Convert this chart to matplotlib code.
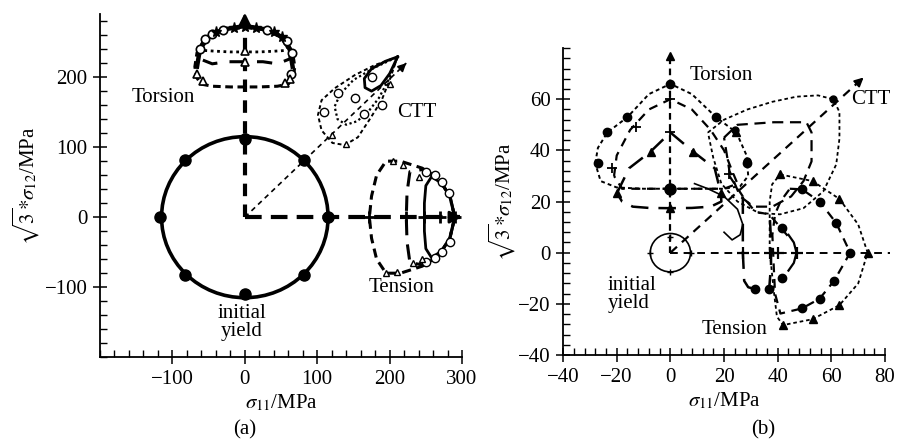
import numpy as np
import matplotlib
matplotlib.use("Agg")
import matplotlib.pyplot as plt
from matplotlib.patches import Circle
from matplotlib.ticker import MultipleLocator

plt.rcParams['font.family'] = ['Liberation Serif', 'DejaVu Serif']
plt.rcParams['mathtext.fontset'] = 'stix'
plt.rcParams['font.size'] = 15

# ---------------- panel (a) data ----------------
a_yield_r = 115
a_yield_px = [115, 82, 0, -82, -117, -82, 0, 82]
a_yield_py = [0, 82, 112, 82, 0, -82, -110, -82]

a_arm_torsion = [0, 288]
a_arm_tension = [0, 297]
a_arm_ctt_x = [0, 223]
a_arm_ctt_y = [0, 220]

a_tor_dash_x = [0, 25, 45, 58, 66, 69, 67, 60, 45, 20, 0, -20, -45, -60, -67, -69, -66, -58, -45, -25, 0]
a_tor_dash_y = [271, 268, 261, 250, 235, 215, 200, 190, 187, 186, 186, 186, 187, 190, 200, 215, 235, 250, 261, 268, 271]
a_tor_ldash_x = [0, 25, 45, 58, 64, 62, 45, 25, 0, -25, -45, -62, -64, -58, -45, -25, 0]
a_tor_ldash_y = [272, 269, 262, 250, 235, 226, 219, 222, 222, 222, 219, 226, 235, 250, 262, 269, 272]
a_tor_dot_x = [0, 25, 45, 56, 60, 55, 40, 20, 0, -20, -40, -55, -60, -56, -45, -25, 0]
a_tor_dot_y = [273, 270, 263, 252, 243, 238, 237, 236, 236, 236, 237, 238, 243, 252, 263, 270, 273]
a_tor_solid_x = [-66, -62, -50, -30, 0, 30, 50, 62, 66]
a_tor_solid_y = [215, 240, 258, 268, 273, 268, 258, 240, 215]
a_tor_circ_x = [-62, -55, -45, 58, 65, 64, -30, 30]
a_tor_circ_y = [240, 254, 262, 252, 235, 205, 268, 268]
a_tor_tri_x = [-66, -58, 0, 0, 62, 55]
a_tor_tri_y = [205, 195, 238, 222, 198, 192]
a_tor_star_x = [-40, -15, 0, 15, 40, 52]
a_tor_star_y = [264, 270, 272, 270, 264, 258]

a_ctt_dash_x = [211, 200, 189, 172, 156, 138, 121, 106, 101, 106, 124, 152, 179, 211]
a_ctt_dash_y = [229, 196, 167, 139, 114, 103, 106, 124, 146, 167, 184, 203, 217, 229]
a_ctt_dot_x = [211, 198, 185, 170, 155, 140, 128, 124, 132, 150, 180, 211]
a_ctt_dot_y = [229, 195, 170, 150, 137, 132, 140, 158, 176, 196, 214, 229]
a_ctt_solid_x = [211, 200, 188, 175, 166, 165, 175, 195, 211]
a_ctt_solid_y = [229, 205, 188, 180, 185, 198, 212, 223, 229]
a_ctt_circ_x = [128, 152, 165, 190, 110, 175]
a_ctt_circ_y = [178, 170, 148, 160, 150, 200]
a_ctt_tri_x = [140, 200, 120]
a_ctt_tri_y = [105, 190, 118]

a_ten_outer_x = [290, 283, 268, 245, 215, 195, 182, 175, 172, 175, 182, 195, 215, 245, 268, 283, 290]
a_ten_outer_y = [0, 30, 55, 70, 80, 80, 60, 30, 0, -30, -60, -80, -80, -70, -55, -30, 0]
a_ten_mid_x = [290, 283, 268, 245, 228, 224, 223, 224, 228, 245, 268, 283, 290]
a_ten_mid_y = [0, 30, 55, 68, 65, 35, 0, -35, -65, -68, -55, -30, 0]
a_ten_solid_x = [290, 284, 272, 258, 250, 248, 248, 248, 250, 258, 272, 284, 290]
a_ten_solid_y = [0, 28, 48, 58, 45, 20, 0, -20, -45, -58, -48, -28, 0]
a_ten_circ_x = [250, 262, 272, 282, 262, 250, 272, 284]
a_ten_circ_y = [65, 60, 50, 35, -58, -64, -50, -35]
a_ten_tri_x = [195, 210, 205, 218, 240, 245, 232]
a_ten_tri_y = [-80, -78, 80, 75, 58, -60, -66]
a_ten_plus_x = [172, 223, 248, 270, 290]

# ---------------- panel (b) data ----------------
b_yield_r = 7.5
b_yield_px = [7.5, 0, -7.5, 0]
b_yield_py = [0, 6, 0, -7.5]

b_arm_torsion = [0, 77]
b_arm_tension = [0, 82]
b_arm_ctt_x = [0, 72]
b_arm_ctt_y = [0, 68.5]

b_tor_out_x = [-28, -27, -23.5, -16, -8, 0, 8, 17, 24.6, 28.4, 29, 26, 20, 10, 0, -10, -20, -26, -28]
b_tor_out_y = [35, 41, 47, 53, 62, 66, 62, 53, 47, 38, 30, 26, 25, 25, 25, 25, 25.5, 28, 35]
b_tor_mid_x = [-21, -20, -15, -8, 0, 8, 15, 20, 23, 25, 20, 0, -18, -21]
b_tor_mid_y = [30, 38, 48, 56, 60, 56, 48, 40, 32, 27, 25, 25, 25, 30]
b_tor_in_x = [-19.9, -15.4, -7.4, 0, 8.5, 16.5, 18.8, 19, 15, 8, 0, -8, -14, -18, -19.9]
b_tor_in_y = [23.3, 33, 39.5, 47, 39.5, 33, 23.3, 20, 18, 17.5, 17.4, 17.5, 18, 20, 23.3]
b_tor_dot_x = [-27, -23.5, -16, 0, 17, 28.4]
b_tor_dot_y = [35, 47, 53, 66, 53, 35]
b_tor_tri_x = [-19.9, -7.4, 8.5, 18.8, 0, 24.6]
b_tor_tri_y = [23.3, 39.5, 39.5, 23.3, 17.4, 47]
b_tor_plus_x = [0, 0, -21.7, -13, 22]
b_tor_plus_y = [47, 60, 33, 49, 30.6]

b_ctt_out_x = [14, 20, 28.7, 38, 47, 55, 60.7, 63, 63, 61.8, 57, 49.6, 40.9, 33, 25, 19, 16, 14]
b_ctt_out_y = [47, 52, 56, 59, 61, 61.5, 60, 55, 44.6, 34.5, 24, 17.4, 15, 15.5, 20, 27, 37, 47]
b_ctt_mid_x = [20, 25, 38.5, 50.7, 52.6, 52.6, 49.6, 45, 38, 31, 26, 22, 20]
b_ctt_mid_y = [45, 50, 51, 51, 47, 35.7, 28, 22, 18, 18, 22, 32, 45]
b_ctt_hook_x = [9, 14, 20, 25, 27, 26, 23, 20]
b_ctt_hook_y = [27, 25, 22, 17, 11, 7, 5, 8]
b_ctt_dot_x = [24, 28.7, 60.7]
b_ctt_dot_y = [48, 35.7, 60]

b_ten_out_x = [40.9, 53, 63, 70, 73.5, 70, 63, 53, 42, 39.7, 38.5, 37, 37, 37.9, 40.9]
b_ten_out_y = [30.6, 28, 21, 11, 0, -12, -20.5, -26, -28.3, -25, -14.7, 0.8, 20, 26.7, 30.6]
b_ten_mid_x = [44.5, 49, 55.6, 61.8, 67, 61, 55.6, 49, 41, 39, 38.5, 38, 39, 41, 44.5]
b_ten_mid_y = [25, 24.8, 20, 11.6, 0, -11, -18, -21.8, -23.8, -16, -5, 7, 15, 20, 25]
b_ten_in_x = [27, 27, 27, 27.5, 29, 31.7, 36.8, 37.5, 37.5, 37]
b_ten_in_y = [22, 10, 0, -11, -13.5, -14.3, -14.3, -5, 5, 15]
b_ten_arc_x = [44, 46, 47, 46, 44]
b_ten_arc_y = [7, 4, 0, -4, -7]
b_ten_diag_x = [22, 27, 31.6, 36.8, 41.5, 45]
b_ten_diag_y = [30, 22, 16, 15, 9.3, 5]
b_ten_dot_x = [49, 55.6, 61.8, 67, 61, 55.6, 49, 31.6, 36.8, 41.5, 41.5]
b_ten_dot_y = [24.8, 20, 11.6, 0, -11, -18, -21.8, -14.3, -14.3, 9.5, -9.7]
b_ten_tri_x = [40.9, 53, 63, 73.5, 63, 53, 42]
b_ten_tri_y = [30.6, 28, 21, 0, -20.5, -26, -28.3]
b_ten_plus_x = [27, 37, 40, 47]

fig = plt.figure(figsize=(8.97, 4.41), dpi=100)
ax1 = fig.add_axes([0.1115, 0.190, 0.4036, 0.778])
ax2 = fig.add_axes([0.6277, 0.195, 0.359, 0.696])


def style_axes(ax, major, minor):
    for s in ['top', 'right']:
        ax.spines[s].set_visible(False)
    for s in ['left', 'bottom']:
        ax.spines[s].set_linewidth(1.3)
    ax.xaxis.set_major_locator(MultipleLocator(major))
    ax.yaxis.set_major_locator(MultipleLocator(major))
    ax.xaxis.set_minor_locator(MultipleLocator(minor))
    ax.yaxis.set_minor_locator(MultipleLocator(minor))
    ax.tick_params(which='major', direction='inout', length=10, width=1.1, labelsize=15, pad=4)
    ax.tick_params(which='minor', direction='in', length=5, width=1.0)
    ax.tick_params(top=False, right=False)


def arrow(ax, x0, y0, x1, y1, lw=1.5, scale=16):
    ax.annotate("", xy=(x1, y1), xytext=(x0, y0), annotation_clip=False,
                arrowprops=dict(arrowstyle='-|>', color='k', lw=lw, mutation_scale=scale,
                                shrinkA=0, shrinkB=0))


ylab = r'$\sqrt{3}{*}\sigma_{12}$/MPa'
xlab = r'$\sigma_{11}$/MPa'

# ---------------- panel (a) ----------------
ax1.set_xlim(-200, 300)
ax1.set_ylim(-200, 290)
style_axes(ax1, 100, 20)
ax1.set_xticks([-100, 0, 100, 200, 300])
ax1.set_yticks([-100, 0, 100, 200])

ax1.add_patch(Circle((0, 0), a_yield_r, fill=False, lw=2.6, ec='k'))
ax1.plot(a_yield_px, a_yield_py, 'o', color='k', ms=8)

ax1.plot([0, 0], a_arm_torsion, color='k', lw=3, dashes=(3, 2))
arrow(ax1, 0, a_arm_torsion[1] - 15, 0, a_arm_torsion[1] + 4, lw=2, scale=18)
ax1.plot(a_arm_tension, [0, 0], color='k', lw=3, dashes=(4, 2.2), clip_on=False)
arrow(ax1, a_arm_tension[1] - 15, 0, a_arm_tension[1] + 3, 0, lw=2, scale=18)
ax1.plot(a_arm_ctt_x, a_arm_ctt_y, color='k', lw=1.2, dashes=(3, 2.5))
arrow(ax1, a_arm_ctt_x[1] - 8, a_arm_ctt_y[1] - 8, a_arm_ctt_x[1], a_arm_ctt_y[1], lw=1.2, scale=12)

ax1.plot(a_tor_dash_x, a_tor_dash_y, color='k', lw=2.2, dashes=(2.5, 1.5))
ax1.plot(a_tor_ldash_x, a_tor_ldash_y, color='k', lw=2.2, dashes=(5, 4))
ax1.plot(a_tor_dot_x, a_tor_dot_y, color='k', lw=2, dashes=(1, 1.3))
ax1.plot(a_tor_solid_x, a_tor_solid_y, color='k', lw=3.2)
ax1.plot(a_tor_circ_x, a_tor_circ_y, 'o', mfc='white', mec='k', ms=6, mew=1.2)
ax1.plot(a_tor_tri_x, a_tor_tri_y, '^', mfc='white', mec='k', ms=6, mew=1.2)
ax1.plot(a_tor_star_x, a_tor_star_y, '*', color='k', ms=8)

ax1.plot(a_ctt_dash_x, a_ctt_dash_y, color='k', lw=1.4, dashes=(2, 1.5))
ax1.plot(a_ctt_dot_x, a_ctt_dot_y, color='k', lw=1.6, dashes=(1, 1.2))
ax1.plot(a_ctt_solid_x, a_ctt_solid_y, color='k', lw=2)
ax1.plot(a_ctt_circ_x, a_ctt_circ_y, 'o', mfc='white', mec='k', ms=6, mew=1)
ax1.plot(a_ctt_tri_x, a_ctt_tri_y, '^', mfc='white', mec='k', ms=5, mew=1)

ax1.plot(a_ten_outer_x, a_ten_outer_y, color='k', lw=2.2, dashes=(3, 1.8), clip_on=False)
ax1.plot(a_ten_mid_x, a_ten_mid_y, color='k', lw=2.2, dashes=(5, 3), clip_on=False)
ax1.plot(a_ten_solid_x, a_ten_solid_y, color='k', lw=2, clip_on=False)
ax1.plot(a_ten_circ_x, a_ten_circ_y, 'o', mfc='white', mec='k', ms=6, mew=1, clip_on=False)
ax1.plot(a_ten_tri_x, a_ten_tri_y, '^', mfc='white', mec='k', ms=5, mew=1)
ax1.plot(a_ten_plus_x, [0] * len(a_ten_plus_x), '+', color='k', ms=9, mew=2, clip_on=False)

ax1.text(-112, 171, 'Torsion', ha='center', va='center')
ax1.text(237, 149, 'CTT', ha='center', va='center')
ax1.text(216, -101, 'Tension', ha='center', va='center')
ax1.text(-4, -150, 'initial\nyield', ha='center', va='center', linespacing=0.95)

ax1.set_xlabel(xlab, fontsize=15, labelpad=3)
ax1.set_ylabel(ylab, fontsize=15, labelpad=2)

# ---------------- panel (b) ----------------
ax2.set_xlim(-40, 80)
ax2.set_ylim(-40, 80)
style_axes(ax2, 20, 4)
ax2.set_yticks([-40, -20, 0, 20, 40, 60])

ax2.add_patch(Circle((0, 0), b_yield_r, fill=False, lw=1.2, ec='k'))
ax2.plot(b_yield_px, b_yield_py, '+', color='k', ms=5, mew=1)

ax2.plot([0, 0], b_arm_torsion, color='k', lw=1.6, dashes=(3, 2))
ax2.plot([0], [b_arm_torsion[1]], '^', color='k', ms=6)
ax2.plot(b_arm_tension, [0, 0], color='k', lw=1.4, dashes=(4, 3), clip_on=False)
ax2.plot(b_arm_ctt_x, b_arm_ctt_y, color='k', lw=1.6, dashes=(4, 3))
arrow(ax2, b_arm_ctt_x[1] - 2.5, b_arm_ctt_y[1] - 2.4, b_arm_ctt_x[1], b_arm_ctt_y[1], lw=1.4, scale=13)

ax2.plot(b_tor_out_x, b_tor_out_y, color='k', lw=1.4, dashes=(2, 1.6))
ax2.plot(b_tor_mid_x, b_tor_mid_y, color='k', lw=1.6, dashes=(4, 3))
ax2.plot(b_tor_in_x, b_tor_in_y, color='k', lw=1.8, dashes=(7, 4))
ax2.plot(b_tor_dot_x, b_tor_dot_y, 'o', color='k', ms=6)
ax2.plot(b_tor_tri_x, b_tor_tri_y, '^', color='k', ms=6)
ax2.plot(b_tor_plus_x, b_tor_plus_y, '+', color='k', ms=7, mew=1.3)
ax2.plot([0], [25], 'o', color='k', ms=8)

ax2.plot(b_ctt_out_x, b_ctt_out_y, color='k', lw=1.3, dashes=(2, 1.6))
ax2.plot(b_ctt_mid_x, b_ctt_mid_y, color='k', lw=1.6, dashes=(5, 3))
ax2.plot(b_ctt_hook_x, b_ctt_hook_y, color='k', lw=1.2)
ax2.plot(b_ctt_dot_x, b_ctt_dot_y, 'o', color='k', ms=5)

ax2.plot(b_ten_out_x, b_ten_out_y, color='k', lw=1.3, dashes=(2, 1.6))
ax2.plot(b_ten_mid_x, b_ten_mid_y, color='k', lw=1.6, dashes=(4, 3))
ax2.plot(b_ten_in_x, b_ten_in_y, color='k', lw=1.8, dashes=(7, 4))
ax2.plot(b_ten_arc_x, b_ten_arc_y, color='k', lw=1.6)
ax2.plot(b_ten_diag_x, b_ten_diag_y, color='k', lw=1.6, dashes=(4, 3))
ax2.plot(b_ten_dot_x, b_ten_dot_y, 'o', color='k', ms=6)
ax2.plot(b_ten_tri_x, b_ten_tri_y, '^', color='k', ms=6)
ax2.plot(b_ten_plus_x, [0] * len(b_ten_plus_x), '+', color='k', ms=8, mew=1.6)

ax2.text(18.8, 69.3, 'Torsion', ha='center', va='center')
ax2.text(67.3, 60, 'CTT', ha='left', va='center')
ax2.text(24, -30, 'Tension', ha='center', va='center')
ax2.text(-23.5, -16.3, 'initial\nyield', ha='left', va='center', linespacing=0.95)

ax2.set_xlabel(xlab, fontsize=15, labelpad=3)
ax2.set_ylabel(ylab, fontsize=15, labelpad=0)

fig.text(245 / 897, 1 - 430 / 441, '(a)', ha='center', va='center', fontsize=15)
fig.text(763 / 897, 1 - 430 / 441, '(b)', ha='center', va='center', fontsize=15)

fig.savefig('out.png', dpi=100)
